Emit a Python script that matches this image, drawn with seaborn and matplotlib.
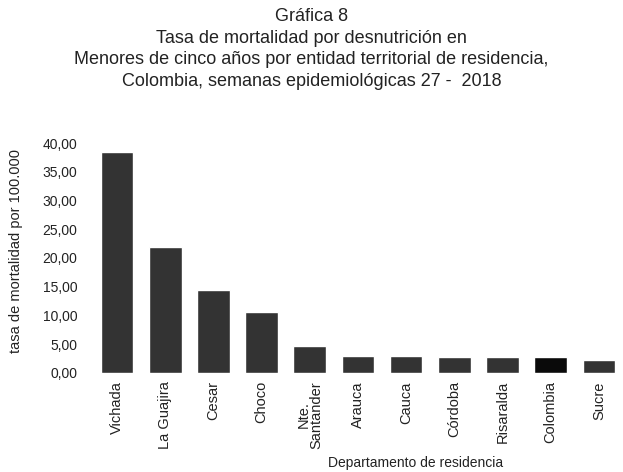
import matplotlib
matplotlib.use('Agg')
import matplotlib.pyplot as plt
import seaborn as sns
import pandas as pd

# Data
departamentos = ['Vichada', 'La Guajira', 'Cesar', 'Choco', 'Nte.\nSantander', 'Arauca',
                 'Cauca', 'Córdoba', 'Risaralda', 'Colombia', 'Sucre']
tasas = [38.4, 21.9, 14.4, 10.6, 4.6, 2.9, 3.0, 2.8, 2.8, 2.8, 2.2]
colores = ['#333333'] * 9 + ['#0a0a0a', '#333333']
yticks = [0, 5, 10, 15, 20, 25, 30, 35, 40]

sns.set_style('white')
plt.rcParams['font.family'] = ['Liberation Sans', 'DejaVu Sans']

df = pd.DataFrame({'departamento': departamentos, 'tasa': tasas})

fig = plt.figure(figsize=(6.23, 4.72), dpi=100)
ax = fig.add_axes([0.149, 0.21, 0.851, 0.487])
sns.barplot(data=df, x='departamento', y='tasa', hue='departamento', palette=colores,
            width=0.68, legend=False, ax=ax, saturation=1)

ax.set_ylim(0, 40)
ax.set_xlim(-0.5, 10.5)
ax.set_yticks(yticks)
ax.set_yticklabels([f'{v:.2f}'.replace('.', ',') for v in yticks], fontsize=10, color='#222222')
ax.set_xticks(range(len(departamentos)))
ax.set_xticklabels(departamentos, rotation=90, fontsize=10.5, linespacing=0.9, color='#222222')
ax.tick_params(axis='y', length=0, pad=11)
ax.tick_params(axis='x', length=0, pad=6)
ax.set_ylabel('tasa de mortalidad por 100.000', fontsize=10.5, color='#222222')
ax.yaxis.set_label_coords(-0.132, 0.53)
ax.set_xlabel('')
sns.despine(ax=ax, left=True, bottom=True)

fig.text(416 / 623, 1 - 463 / 472, 'Departamento de residencia', ha='center', va='center',
         fontsize=10, color='#222222')

titulo = ['Gráfica 8',
          'Tasa de mortalidad por desnutrición en',
          'Menores de cinco años por entidad territorial de residencia,',
          'Colombia, semanas epidemiológicas 27 -  2018']
for i, linea in enumerate(titulo):
    fig.text(0.5, 0.964 - i * 0.0455, linea, ha='center', va='center', fontsize=13,
             color='#222222')

fig.savefig('out.png', dpi=100)
